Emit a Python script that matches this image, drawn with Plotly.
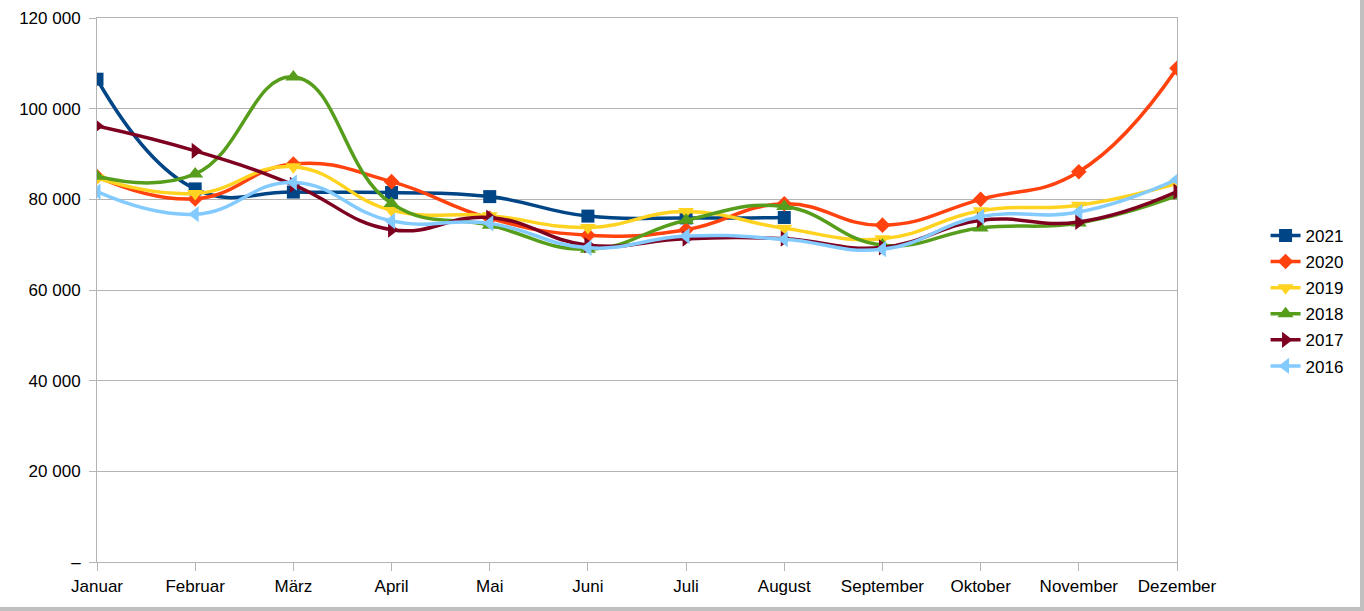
import plotly.graph_objects as go

months = ["Januar", "Februar", "März", "April", "Mai", "Juni", "Juli",
          "August", "September", "Oktober", "November", "Dezember"]

y2021 = [106500, 82300, 81600, 81500, 80600, 76300, 75900, 76000, None, None, None, None]
y2020 = [85000, 80100, 87800, 83900, 75800, 72100, 73300, 79000, 74300, 80000, 86100, 108900]
y2019 = [84700, 81300, 87200, 77600, 76400, 73800, 77300, 73600, 71300, 77500, 78700, 83500]
y2018 = [85100, 85600, 107000, 79100, 74300, 69000, 75400, 78400, 69900, 73700, 74800, 80800]
y2017 = [96200, 90700, 83200, 73300, 76000, 69900, 71300, 71300, 69400, 75400, 75000, 81700]
y2016 = [81700, 76700, 83700, 75200, 74700, 69300, 71900, 71200, 69000, 76200, 77200, 84400]

series = [
    ("2021", y2021, "#004586", "square", 13),
    ("2020", y2020, "#ff420e", "diamond", 12),
    ("2019", y2019, "#ffd320", "triangle-down", 14),
    ("2018", y2018, "#579d1c", "triangle-up", 14),
    ("2017", y2017, "#7e0021", "triangle-right", 14),
    ("2016", y2016, "#83caff", "triangle-left", 14),
]

yticks = [0, 20000, 40000, 60000, 80000, 100000, 120000]
yticktext = ["–", "20 000", "40 000", "60 000", "80 000", "100 000", "120 000"]

fig = go.Figure()
for name, vals, color, sym, size in series:
    fig.add_trace(go.Scatter(
        x=list(range(len(months))), y=vals, name=name, mode="lines+markers",
        line=dict(color=color, width=3.5, shape="spline", smoothing=1.3),
        marker=dict(symbol=sym, size=size, color=color, line=dict(width=0)),
        legendgroup=name, connectgaps=False, hoverinfo="skip",
    ))

grid = "#b3b3b3"
fs = 17
fig.update_layout(
    width=1364, height=611,
    margin=dict(l=97, r=187, t=18, b=49, autoexpand=False),
    paper_bgcolor="white", plot_bgcolor="white",
    font=dict(family="Liberation Sans, Arial, sans-serif", size=fs, color="black"),
    showlegend=True,
    legend=dict(x=1.082, xanchor="left", y=0.48, yanchor="middle",
                font=dict(size=fs), tracegroupgap=1, traceorder="grouped",
                bgcolor="rgba(0,0,0,0)"),
    xaxis=dict(
        range=[0, 11], tickvals=list(range(12)), ticktext=months,
        showgrid=False, zeroline=False, showline=True, linecolor=grid, linewidth=1,
        mirror=True, ticks="outside", ticklen=8, tickcolor=grid,
        tickfont=dict(size=fs), ticklabelstandoff=1, fixedrange=True,
        automargin=False,
    ),
    yaxis=dict(
        range=[0, 120000], tickvals=yticks, ticktext=yticktext,
        showgrid=True, gridcolor=grid, gridwidth=1, zeroline=False,
        showline=True, linecolor=grid, linewidth=1, mirror=True,
        ticks="outside", ticklen=7, tickcolor=grid, tickfont=dict(size=fs),
        ticklabelstandoff=5, fixedrange=True, automargin=False,
    ),
    shapes=[
        dict(type="rect", xref="paper", yref="paper",
             x0=(0 - 97) / 1080, x1=(1364 - 97) / 1080,
             y0=(562 - 611) / 544, y1=(562 - 607) / 544,
             fillcolor="#c0c0c0", line=dict(width=0), layer="above"),
        dict(type="rect", xref="paper", yref="paper",
             x0=(1360 - 97) / 1080, x1=(1364 - 97) / 1080,
             y0=(562 - 611) / 544, y1=(562 - 0) / 544,
             fillcolor="#c0c0c0", line=dict(width=0), layer="above"),
    ],
)

fig.write_html("out.html", config={"displayModeBar": False, "staticPlot": True},
               post_script="document.body.style.margin='0';document.body.style.overflow='hidden';")
